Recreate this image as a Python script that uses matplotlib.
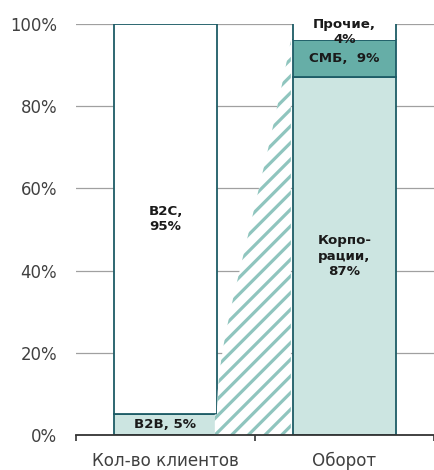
import matplotlib
matplotlib.use("Agg")
import matplotlib.pyplot as plt
from matplotlib.path import Path
from matplotlib.patches import PathPatch
from matplotlib.ticker import FixedLocator, NullFormatter

# ---- data ----
categories = ["Кол-во клиентов", "Оборот"]
clients_labels = ["B2B, 5%", "B2C,\n95%"]
clients_values = [5, 95]
turnover_labels = ["Корпо-\nрации,\n87%", "СМБ,  9%", "Прочие,\n4%"]
turnover_values = [87, 9, 4]
yticks = [0, 20, 40, 60, 80, 100]
ytick_labels = ["0%", "20%", "40%", "60%", "80%", "100%"]

# ---- style ----
EDGE = "#1d5c66"
LIGHT = "#cce5e1"
MID = "#66aea7"
HATCH = "#8fc5be"
GRID = "#a0a0a0"
TXT = "#404040"

plt.rcParams["font.family"] = ["DejaVu Sans"]
plt.rcParams["hatch.linewidth"] = 2.3

fig = plt.figure(figsize=(4.34, 4.70), dpi=100)
ax = fig.add_axes([76 / 434, 35 / 470, 1 - 76 / 434, (435 - 24) / 470])
ax.set_xlim(-0.5, 1.5)
ax.set_ylim(0, 100)

W = 0.575
x = [0, 1]

# gridlines
for t in yticks[1:]:
    ax.axhline(t, color=GRID, lw=0.9, zorder=0)

# left bar (clients)
left_colors = [LIGHT, "white"]
bottom = 0
for v, c in zip(clients_values, left_colors):
    ax.bar(x[0], v, W, bottom=bottom, color=c, edgecolor=EDGE, lw=1.3, zorder=2)
    bottom += v

# right bar (turnover)
right_colors = [LIGHT, MID, "white"]
bottom = 0
for i, (v, c) in enumerate(zip(turnover_values, right_colors)):
    if i == 2:
        ax.bar(x[1], v, W, bottom=bottom, color=c, lw=0, zorder=2)
        ax.vlines([x[1] - W / 2, x[1] + W / 2], bottom, bottom + v,
                  color=EDGE, lw=1.3, zorder=3)
    else:
        ax.bar(x[1], v, W, bottom=bottom, color=c, edgecolor=EDGE, lw=1.3, zorder=2)
    bottom += v

# hatched connector: B2B share of clients -> B2B share of turnover
b2b_clients = clients_values[0]
b2b_turnover = turnover_values[0] + turnover_values[1]
xa = x[0] + W / 2
xb = x[1] - W / 2 - 0.012
xl = xa - 0.012
span = b2b_turnover - b2b_clients
verts = [
    (xl, 0), (xl, b2b_clients), (xa, b2b_clients),
    (xa, b2b_clients + 0.22 * span),
    (xa + 0.42 * (xb - xa), b2b_clients + 0.42 * span),
    (xb, b2b_turnover),
    (xb, 0), (xl, 0),
]
codes = [Path.MOVETO, Path.LINETO, Path.LINETO,
         Path.CURVE4, Path.CURVE4, Path.CURVE4,
         Path.LINETO, Path.CLOSEPOLY]
patch = PathPatch(Path(verts, codes), facecolor="white", edgecolor=HATCH,
                  lw=0, hatch="//", zorder=4)
ax.add_patch(patch)

# labels
fs_b = 9.6
bottom = 0
for v, lab in zip(clients_values, clients_labels):
    ax.text(x[0], bottom + v / 2, lab, ha="center", va="center",
            fontsize=fs_b, fontweight="bold", color="#1a1a1a", zorder=6,
            linespacing=1.25)
    bottom += v
bottom = 0
for v, lab in zip(turnover_values, turnover_labels):
    ax.text(x[1], bottom + v / 2, lab, ha="center", va="center",
            fontsize=fs_b, fontweight="bold", color="#1a1a1a", zorder=6,
            linespacing=1.25)
    bottom += v

# axes styling
for s in ["left", "right", "top"]:
    ax.spines[s].set_visible(False)
ax.spines["bottom"].set_color("#333333")
ax.spines["bottom"].set_linewidth(1.3)
ax.spines["bottom"].set_zorder(5)

ax.set_yticks(yticks)
ax.set_yticklabels(ytick_labels)
ax.tick_params(axis="y", length=0, pad=13.5, labelsize=11.9, labelcolor=TXT)

ax.set_xticks(x)
ax.set_xticklabels(categories)
ax.tick_params(axis="x", which="major", length=0, pad=12, labelsize=12.1,
               labelcolor=TXT)
ax.xaxis.set_minor_locator(FixedLocator([-0.5, 0.5, 1.5]))
ax.xaxis.set_minor_formatter(NullFormatter())
ax.tick_params(axis="x", which="minor", length=4, width=1.2, color="#333333")

fig.savefig("out.png", dpi=100)
